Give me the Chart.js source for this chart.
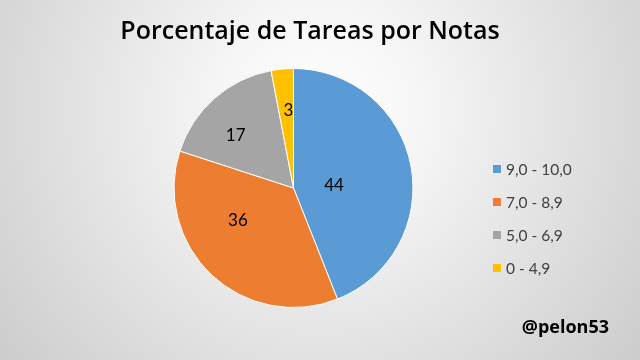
<!DOCTYPE html>
<html>
<head>
<meta charset="utf-8">
<script src="https://cdn.jsdelivr.net/npm/chart.js@4/dist/chart.umd.min.js"></script>
<style>
html,body{margin:0;padding:0;width:640px;height:360px;overflow:hidden;}
#c{display:block;}
</style>
</head>
<body>
<canvas id="c" width="640" height="360"></canvas>
<script>
const titleText = "Porcentaje de Tareas por Notas";
const categories = ["9,0 - 10,0", "7,0 - 8,9", "5,0 - 6,9", "0 - 4,9"];
const values = [44, 36, 17, 3];
const colors = ["#5B9BD5", "#ED7D31", "#A5A5A5", "#FFC000"];
const labelRadius = [0.34, 0.54, 0.655, 0.65];
const labelShiftDeg = [6.6, 16.3, -6.2, 1.7];
const watermark = "@pelon53";

const bgPlugin = {
  id: 'bg',
  beforeDraw(chart) {
    const ctx = chart.ctx;
    const g = ctx.createRadialGradient(320, 110, 0, 320, 110, 400);
    g.addColorStop(0, '#ffffff');
    g.addColorStop(0.25, '#f6f6f6');
    g.addColorStop(1, '#cdcdcd');
    ctx.save();
    ctx.fillStyle = g;
    ctx.fillRect(0, 0, chart.width, chart.height);
    ctx.restore();
  }
};

const decoPlugin = {
  id: 'deco',
  afterDraw(chart) {
    const ctx = chart.ctx;
    ctx.save();
    // title
    ctx.fillStyle = '#000';
    ctx.textAlign = 'center';
    ctx.textBaseline = 'alphabetic';
    ctx.font = '600 25px "Open Sans"';
    ctx.fillText(titleText, 310, 39);
    // data labels
    const meta = chart.getDatasetMeta(0);
    ctx.font = '17px Lato';
    ctx.textBaseline = 'middle';
    meta.data.forEach((arc, i) => {
      const p = arc.getProps(['x','y','startAngle','endAngle','outerRadius'], true);
      const mid = (p.startAngle + p.endAngle) / 2 + labelShiftDeg[i] * Math.PI / 180;
      const r = p.outerRadius * labelRadius[i];
      ctx.fillText(String(values[i]), p.x + Math.cos(mid) * r, p.y + Math.sin(mid) * r);
    });
    // legend
    ctx.textAlign = 'left';
    ctx.font = '15.5px Lato';
    categories.forEach((c, i) => {
      const y = 169 + i * 33;
      ctx.fillStyle = colors[i];
      ctx.fillRect(493, y - 4, 8, 8);
      ctx.fillStyle = '#404040';
      ctx.fillText(c, 506, y + 1);
    });
    // watermark
    ctx.fillStyle = '#000';
    ctx.font = 'bold 18px "Open Sans"';
    ctx.textAlign = 'right';
    ctx.fillText(watermark, 609, 328);
    ctx.restore();
  }
};

new Chart(document.getElementById('c'), {
  type: 'pie',
  data: {
    labels: categories,
    datasets: [{
      data: values,
      backgroundColor: colors,
      borderColor: '#ffffff',
      borderWidth: 1
    }]
  },
  options: {
    responsive: false,
    animation: false,
    layout: { padding: { left: 173, right: 226, top: 68, bottom: 52 } },
    plugins: {
      legend: { display: false },
      title: { display: false },
      tooltip: { enabled: false }
    }
  },
  plugins: [bgPlugin, decoPlugin]
});
</script>
</body>
</html>
